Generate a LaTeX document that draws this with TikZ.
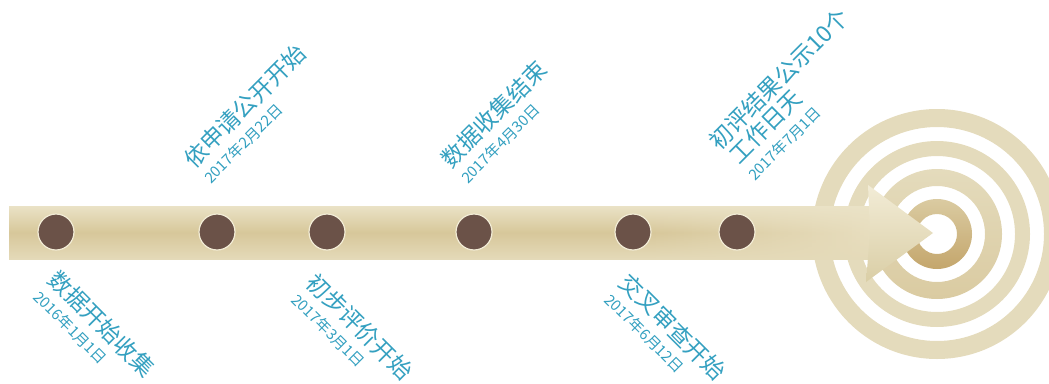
\documentclass[tikz,border=0pt]{standalone}
\usepackage{fontspec}
\newfontfamily\cjk{Noto Sans CJK SC}
\usetikzlibrary{calc}
\definecolor{txt}{RGB}{52,160,192}
\definecolor{dotc}{RGB}{107,82,72}
\definecolor{ringc}{RGB}{228,219,188}
\definecolor{ringm}{RGB}{214,196,150}
\definecolor{ringd}{RGB}{196,166,108}
\definecolor{shafta}{RGB}{234,226,198}
\definecolor{shaftb}{RGB}{215,199,154}
\definecolor{heada}{RGB}{242,236,214}
\definecolor{headb}{RGB}{218,206,166}
\begin{document}
\begin{tikzpicture}[x=1pt,y=-1pt,
  title/.style={anchor=west, inner sep=0, outer sep=0, text=txt, font=\cjk\fontsize{23}{23}\selectfont},
  datel/.style={anchor=west, inner sep=0, outer sep=0, text=txt, font=\cjk\fontsize{15}{16}\selectfont},
  dotn/.style={circle, fill=dotc, draw=heada, line width=1.2pt, minimum size=36pt, inner sep=0},
]
\useasboundingbox (0,0) rectangle (1049,383);
% target rings
\coordinate (c) at (937,234);
\fill[ringc, even odd rule] (c) circle (125pt) circle (107pt);
\fill[ringc, even odd rule] (c) circle (93pt) circle (78pt);
\shade[even odd rule, top color=ringc, bottom color=ringm!70!ringc] (c) circle (65pt) circle (48pt);
\shade[even odd rule, top color=ringm!70!ringc, bottom color=ringd] (c) circle (35pt) circle (20pt);
% arrow shaft and head
\shade[top color=shafta, bottom color=shafta!70!shaftb, middle color=shaftb] (9,206) rectangle (652,259);
\foreach \i in {0,...,55}{
  \pgfmathtruncatemacro{\q}{100-\i*1.1}
  \shade[top color=shafta, bottom color=shafta!70!shaftb, middle color=shaftb!\q!heada]
    (652+\i*4,206) rectangle (656.6+\i*4,259);
}
\shade[top color=heada, bottom color=headb] (868,185) -- (933,233) -- (866,282) -- (870,233) -- cycle;
% dots
\node[dotn] (d1) at (56,232) {};
\node[dotn] (d2) at (217,232) {};
\node[dotn] (d3) at (327,232) {};
\node[dotn] (d4) at (474,232) {};
\node[dotn] (d5) at (633,232) {};
\node[dotn] (d6) at (737,232) {};
% lower labels
\node[title, rotate=-45] (t1) at (53,275) {数据开始收集};
\node[datel, rotate=-45] (a1) at ($(t1.west)+(-16,19)$) {2016年1月1日};
\node[title, rotate=-45] (t3) at (311,278) {初步评价开始};
\node[datel, rotate=-45] (a3) at ($(t3.west)+(-16,19)$) {2017年3月1日};
\node[title, rotate=-45] (t5) at (624,278) {交叉审查开始};
\node[datel, rotate=-45] (a5) at ($(t5.west)+(-16,19)$) {2017年6月12日};
% upper labels
\node[title, rotate=45] (t2) at (188,163) {依申请公开开始};
\node[datel, rotate=45] (a2) at ($(t2.west)+(19,17)$) {2017年2月22日};
\node[title, rotate=45] (t4) at (445,163) {数据收集结束};
\node[datel, rotate=45] (a4) at ($(t4.west)+(19,17)$) {2017年4月30日};
\node[title, rotate=45] (t6) at (713,145) {初评结果公示10个};
\node[title, rotate=45] (t6b) at ($(t6.west)+(20,14)$) {工作日天};
\node[datel, rotate=45] (a6) at ($(t6b.west)+(18,18)$) {2017年7月1日};
\end{tikzpicture}
\end{document}
